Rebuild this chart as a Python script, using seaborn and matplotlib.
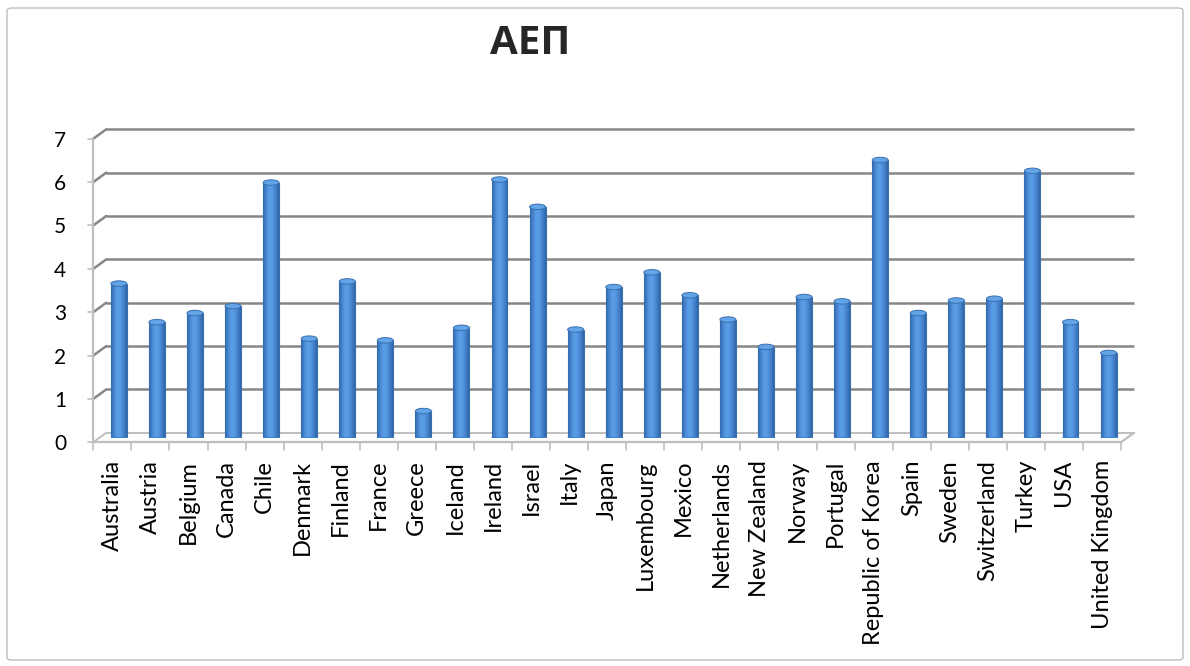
import numpy as np
import pandas as pd
import matplotlib
matplotlib.use("Agg")
import matplotlib.pyplot as plt
import matplotlib.transforms as mtransforms
from matplotlib.patches import Ellipse, FancyBboxPatch
from matplotlib.colors import LinearSegmentedColormap
import seaborn as sns

# ---------------- data ----------------
countries = ["Australia", "Austria", "Belgium", "Canada", "Chile", "Denmark",
             "Finland", "France", "Greece", "Iceland", "Ireland", "Israel",
             "Italy", "Japan", "Luxembourg", "Mexico", "Netherlands",
             "New Zealand", "Norway", "Portugal", "Republic of Korea", "Spain",
             "Sweden", "Switzerland", "Turkey", "USA", "United Kingdom"]
gdp = [3.55, 2.66, 2.87, 3.03, 5.88, 2.28, 3.60, 2.24, 0.61, 2.53, 5.95, 5.32,
       2.49, 3.47, 3.81, 3.28, 2.72, 2.09, 3.24, 3.14, 6.40, 2.87, 3.16, 3.20,
       6.15, 2.66, 1.95]
y_ticks = [0, 1, 2, 3, 4, 5, 6, 7]
title = "ΑΕΠ"

df = pd.DataFrame({"country": countries, "gdp": gdp})

# ---------------- style ----------------
sns.set_style("white")
plt.rcParams["font.family"] = ["Lato", "Open Sans", "DejaVu Sans"]

W, H, DPI = 1190, 666, 100
fig = plt.figure(figsize=(W / DPI, H / DPI), dpi=DPI)

# outer chart border
fig.patches.append(FancyBboxPatch((7 / W, 6 / H), (W - 14) / W, (H - 14) / H,
                                  boxstyle="round,pad=0,rounding_size=0.004",
                                  transform=fig.transFigure, fill=False,
                                  edgecolor="#bdbdbd", linewidth=1.0))

# axes = mid-depth plane of the 3D plot
ax_l, ax_r = 99.8, 1127.6
ax_t, ax_b = 134.0, 437.5
ax = fig.add_axes([ax_l / W, (H - ax_b) / H, (ax_r - ax_l) / W, (ax_b - ax_t) / H])

n = len(countries)
xmin, xmax = -0.5, n - 0.5
ymin, ymax = 0, 7

sns.barplot(data=df, x="country", y="gdp", color="#4a8fd8", width=0.42,
            edgecolor="#3a70b0", linewidth=0.8, ax=ax, zorder=3)

ax.set_xlim(xmin, xmax)
ax.set_ylim(ymin, ymax)

# depth offsets (half of wall depth) in data units
px_x = (ax_r - ax_l) / (xmax - xmin)
px_y = (ax_b - ax_t) / (ymax - ymin)
DX = 6.5 / px_x
DY = 4.75 / px_y

grid_c = "#878787"
floor_c = "#bfbfbf"

# back wall gridlines + left slants
for yv in y_ticks:
    c = floor_c if yv == 0 else grid_c
    lw = 1.4 if yv == 0 else 1.8
    ax.plot([xmin + DX, xmax + DX], [yv + DY, yv + DY], color=c, lw=lw,
            clip_on=False, zorder=1, solid_capstyle="butt")
    ax.plot([xmin - DX, xmin + DX], [yv - DY, yv + DY], color=c, lw=lw,
            clip_on=False, zorder=1)

# floor: front edge, right slant
ax.plot([xmin - DX, xmax - DX], [-DY, -DY], color=floor_c, lw=1.6,
        clip_on=False, zorder=5)
ax.plot([xmax - DX, xmax + DX], [-DY, DY], color=floor_c, lw=1.6,
        clip_on=False, zorder=5)
# front vertical axis
ax.plot([xmin - DX, xmin - DX], [-DY, ymax - DY], color=floor_c, lw=1.6,
        clip_on=False, zorder=5)
# y ticks on front axis
tick_len_y = 5.0 / px_x
for yv in y_ticks:
    ax.plot([xmin - DX - tick_len_y, xmin - DX], [yv - DY, yv - DY],
            color=floor_c, lw=1.2, clip_on=False, zorder=5)
# x ticks on front floor edge
tick_len_x = 8.0 / px_y
for i in range(n + 1):
    xb = xmin + i - DX
    ax.plot([xb, xb], [-DY, -DY - tick_len_x], color=floor_c, lw=1.2,
            clip_on=False, zorder=5)

# cylinder shading for bars
cyl = LinearSegmentedColormap.from_list(
    "cyl", ["#3268aa", "#4687d2", "#5b9fe6", "#5599e2", "#4482cc", "#3165a6"])
grad = np.linspace(0, 1, 64).reshape(1, -1)
ell_h = 5.5 / px_y
for p in list(ax.patches):
    x0, w, h = p.get_x(), p.get_width(), p.get_height()
    if h <= 0:
        continue
    im = ax.imshow(grad, extent=[x0, x0 + w, 0, h], aspect="auto", cmap=cyl,
                   zorder=3.5, interpolation="bicubic")
    im.set_clip_path(p)
    ax.add_patch(Ellipse((x0 + w / 2, 0), w, ell_h, facecolor="#3f7ec8",
                         edgecolor="none", zorder=3.2))
    ax.add_patch(Ellipse((x0 + w / 2, h), w, ell_h, facecolor="#63a4e8",
                         edgecolor="#3a70b0", linewidth=0.7, zorder=4))

ax.set_xlim(xmin, xmax)
ax.set_ylim(ymin, ymax)
ax.set_aspect("auto")

for s in ax.spines.values():
    s.set_visible(False)
ax.grid(False)
ax.set_xlabel("")
ax.set_ylabel("")

ax.set_yticks(y_ticks)
ax.set_yticklabels([str(v) for v in y_ticks])
ax.set_xticks(range(n))
ax.set_xticklabels(countries, rotation=90, va="top", ha="center")
ax.tick_params(axis="y", length=0, pad=24.3, labelsize=15, labelcolor="black")
ax.tick_params(axis="x", length=0, pad=16.2, labelsize=17, labelcolor="black")

off_y = mtransforms.ScaledTranslation(0, -4.75 / DPI, fig.dpi_scale_trans)
for lab in ax.get_yticklabels():
    lab.set_transform(lab.get_transform() + off_y)
off_x = mtransforms.ScaledTranslation(-6.5 / DPI, 0, fig.dpi_scale_trans)
for lab in ax.get_xticklabels():
    lab.set_transform(lab.get_transform() + off_x)

fig.text(530 / W, 1 - 44 / H, title, ha="center", va="center",
         fontsize=29, fontweight="bold",
         family=["Open Sans", "DejaVu Sans"])

fig.savefig("out.png", dpi=DPI, facecolor="white")
